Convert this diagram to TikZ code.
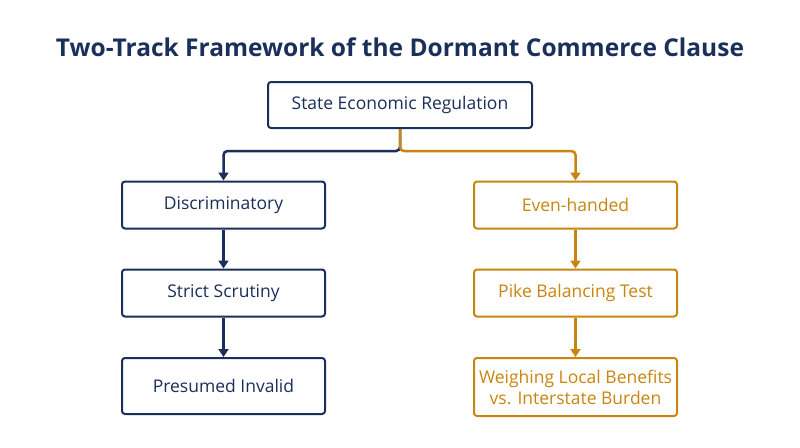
\documentclass[tikz,border=0pt]{standalone}
\usepackage{fontspec}
\setmainfont{Open Sans}
\usetikzlibrary{arrows.meta}
\definecolor{navy}{HTML}{1B2F5B}
\definecolor{gold}{HTML}{C8860F}
\begin{document}
\begin{tikzpicture}
  [x=1pt, y=-1pt,
   box/.style={draw=navy, line width=2pt, rounded corners=3pt, fill=white,
     text=navy, align=center, font=\fontsize{17.5}{21}\selectfont, inner sep=0pt},
   lbox/.style={box, minimum width=203pt, minimum height=47pt},
   rbox/.style={lbox, draw=gold, text=gold},
   link/.style={line width=2.5pt, -{Triangle[length=8pt,width=10pt]}}]
  \useasboundingbox (0,0) rectangle (800,447);
  \node[text=navy, font=\bfseries\fontsize{24.5}{29}\selectfont] (title) at (400,47)
    {Two-Track Framework of the Dormant Commerce Clause};
  \node[box, minimum width=264pt, minimum height=46pt] (reg) at (400,105) {State Economic Regulation};
  % left track
  \node[lbox] (disc) at (223.5,205) {Discriminatory};
  \node[lbox] (strict) at (223.5,293) {Strict Scrutiny};
  \node[lbox, minimum height=56pt] (invalid) at (223.5,386) {Presumed Invalid};
  % right track
  \node[rbox] (even) at (575.5,205) {Even-handed};
  \node[rbox] (pike) at (575.5,293) {Pike Balancing Test};
  \node[rbox, minimum height=58pt] (weigh) at (575.5,387) {Weighing Local Benefits\\vs. Interstate Burden};
  \coordinate (fork) at (400,151);
  \draw[link, navy, rounded corners=4pt] (reg.south) -- (fork) -| (disc.north);
  \draw[link, gold, rounded corners=4pt] (reg.south) -- (fork) -| (even.north);
  \draw[link, navy] (disc) -- (strict);
  \draw[link, navy] (strict) -- (invalid);
  \draw[link, gold] (even) -- (pike);
  \draw[link, gold] (pike) -- (weigh);
\end{tikzpicture}
\end{document}
